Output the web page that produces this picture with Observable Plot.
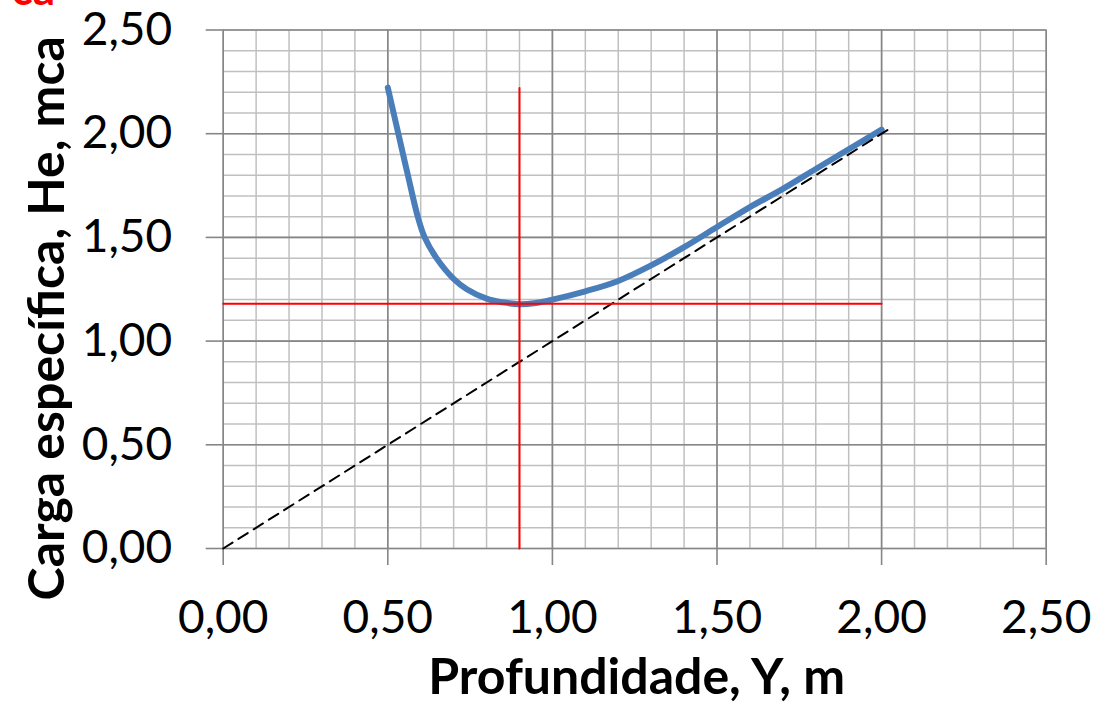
<!DOCTYPE html>
<html>
<head>
<meta charset="utf-8">
<script src="https://cdn.jsdelivr.net/npm/d3@7"></script>
<script src="https://cdn.jsdelivr.net/npm/@observablehq/plot@0.6"></script>
<style>
  html, body { margin: 0; padding: 0; background: #ffffff; }
  #chart { position: relative; width: 1101px; height: 714px; overflow: hidden; }
</style>
</head>
<body>
<div id="chart"></div>
<script>
// Specific energy curve
const depth  = [0.50, 0.532, 0.561, 0.591, 0.612, 0.648, 0.70, 0.74, 0.80, 0.85, 0.90, 0.95, 1.00, 1.10, 1.20, 1.30, 1.40, 1.50, 1.60, 1.70, 1.80, 1.90, 2.00];
const energy = [2.222, 2.00, 1.80, 1.60, 1.50, 1.40, 1.30, 1.25, 1.205, 1.187, 1.178, 1.184, 1.20, 1.24, 1.29, 1.365, 1.453, 1.55, 1.646, 1.734, 1.83, 1.925, 2.02];

// Reference line He = Y
const refDepth  = [0, 2.02];
const refEnergy = [0, 2.02];

// Critical point markers (red lines)
const criticalDepth = 0.90;
const minEnergy = 1.18;
const vLineTop = 2.22;
const hLineEnd = 2.00;

// Axis ticks
const majorTicks = [0, 0.5, 1.0, 1.5, 2.0, 2.5];
const minorTicks = [0, 0.1, 0.2, 0.3, 0.4, 0.5, 0.6, 0.7, 0.8, 0.9, 1.0, 1.1, 1.2, 1.3, 1.4, 1.5, 1.6, 1.7, 1.8, 1.9, 2.0, 2.1, 2.2, 2.3, 2.4, 2.5];

// Texts
const xTitle = "Profundidade, Y, m";
const yTitle = "Carga específica, He, mca";
const clippedTitle = "ca";

const fmt = d => d.toFixed(2).replace(".", ",");

const curve = depth.map((d, i) => ({x: d, y: energy[i]}));
const refLine = refDepth.map((d, i) => ({x: d, y: refEnergy[i]}));
const vLine = [{x: criticalDepth, y: 0}, {x: criticalDepth, y: vLineTop}];
const hLine = [{x: 0, y: minEnergy}, {x: hLineEnd, y: minEnergy}];

const minorColor = "#c0c0c0";
const majorColor = "#868686";

const chart = Plot.plot({
  width: 1101,
  height: 714,
  marginLeft: 222.7,
  marginRight: 55.3,
  marginTop: 29.5,
  marginBottom: 166,
  style: {fontFamily: "Lato, 'Open Sans', sans-serif", background: "#ffffff", overflow: "visible"},
  x: {domain: [0, 2.5]},
  y: {domain: [0, 2.5]},
  marks: [
    Plot.ruleX(minorTicks, {stroke: minorColor, strokeWidth: 1.5}),
    Plot.ruleY(minorTicks, {stroke: minorColor, strokeWidth: 1.5}),
    Plot.ruleX(majorTicks, {stroke: majorColor, strokeWidth: 1.6}),
    Plot.ruleY(majorTicks, {stroke: majorColor, strokeWidth: 1.6}),
    Plot.axisX({ticks: majorTicks, tickSize: 17, tickPadding: 35, tickFormat: fmt, fontSize: 46, stroke: majorColor, strokeWidth: 1.6, fill: "#000", label: null}),
    Plot.axisY({ticks: majorTicks, tickSize: 17, tickPadding: 34, tickFormat: fmt, fontSize: 46, stroke: majorColor, strokeWidth: 1.6, fill: "#000", label: null}),
    Plot.line(curve, {x: "x", y: "y", stroke: "#4a7ebb", strokeWidth: 6, curve: "catmull-rom", strokeLinecap: "round", strokeLinejoin: "round"}),
    Plot.line(refLine, {x: "x", y: "y", stroke: "#000", strokeWidth: 2, strokeDasharray: "11,7"}),
    Plot.line(vLine, {x: "x", y: "y", stroke: "#ff0000", strokeWidth: 2}),
    Plot.line(hLine, {x: "x", y: "y", stroke: "#ff0000", strokeWidth: 2}),
    Plot.text([xTitle], {frameAnchor: "bottom", lineAnchor: "middle", textAnchor: "middle", dx: 2, dy: 129, fontSize: 50, fontWeight: "bold", fill: "#000"}),
    Plot.text([yTitle], {frameAnchor: "left", lineAnchor: "middle", textAnchor: "middle", rotate: -90, dx: -175, dy: 29, fontSize: 50, fontWeight: "bold", fill: "#000"}),
    Plot.text([clippedTitle], {frameAnchor: "top-left", lineAnchor: "middle", textAnchor: "start", dx: -211.7, dy: -39.5, fontSize: 44, fontWeight: "bold", fill: "#ff0000"})
  ]
});

document.getElementById("chart").appendChild(chart);
</script>
</body>
</html>
